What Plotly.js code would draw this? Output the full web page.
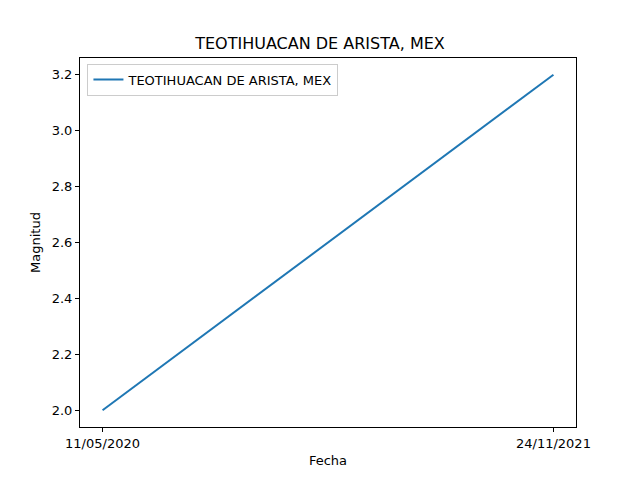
<!DOCTYPE html>
<html>
<head>
<script src="https://cdn.plot.ly/plotly-3.0.1.min.js"></script>
<style>body{margin:0}</style>
</head>
<body>
<div id="chart" style="width:640px;height:480px"></div>
<script>
const fechas = ['11/05/2020', '24/11/2021'];
const magnitudes = [2.0, 3.2];
const nombre = 'TEOTIHUACAN DE ARISTA, MEX';

const trace = {
  x: [0, 1],
  y: magnitudes,
  type: 'scatter',
  mode: 'lines',
  name: nombre,
  line: { color: '#1f77b4', width: 2 },
};

const layout = {
  width: 640,
  height: 480,
  margin: { l: 80, r: 64, t: 58, b: 53 },
  paper_bgcolor: 'white',
  plot_bgcolor: 'white',
  font: { family: 'DejaVu Sans', size: 13, color: 'black' },
  title: { text: nombre, font: { size: 16 }, x: 0.5, y: 0.91, yanchor: 'middle' },
  showlegend: true,
  legend: {
    x: 0.015, y: 0.985, xanchor: 'left', yanchor: 'top',
    bordercolor: '#cccccc', borderwidth: 1, bgcolor: 'white',
    font: { size: 13 },
  },
  xaxis: {
    title: { text: 'Fecha', standoff: 6, font: { size: 13 } },
    range: [-0.05, 1.05],
    tickvals: [0, 1],
    ticktext: fechas,
    tickfont: { size: 13 },
    showgrid: false, zeroline: false,
    showline: true, mirror: true, linecolor: 'black', linewidth: 1,
    ticks: 'outside', ticklen: 4, tickcolor: 'black',
  },
  yaxis: {
    title: { text: 'Magnitud', standoff: 8, font: { size: 13 } },
    range: [1.94, 3.26],
    tickvals: [2.0, 2.2, 2.4, 2.6, 2.8, 3.0, 3.2],
    tickformat: '.1f',
    tickfont: { size: 13 },
    showgrid: false, zeroline: false,
    showline: true, mirror: true, linecolor: 'black', linewidth: 1,
    ticks: 'outside', ticklen: 4, tickcolor: 'black',
  },
};

Plotly.newPlot('chart', [trace], layout, { displayModeBar: false });
</script>
</body>
</html>
